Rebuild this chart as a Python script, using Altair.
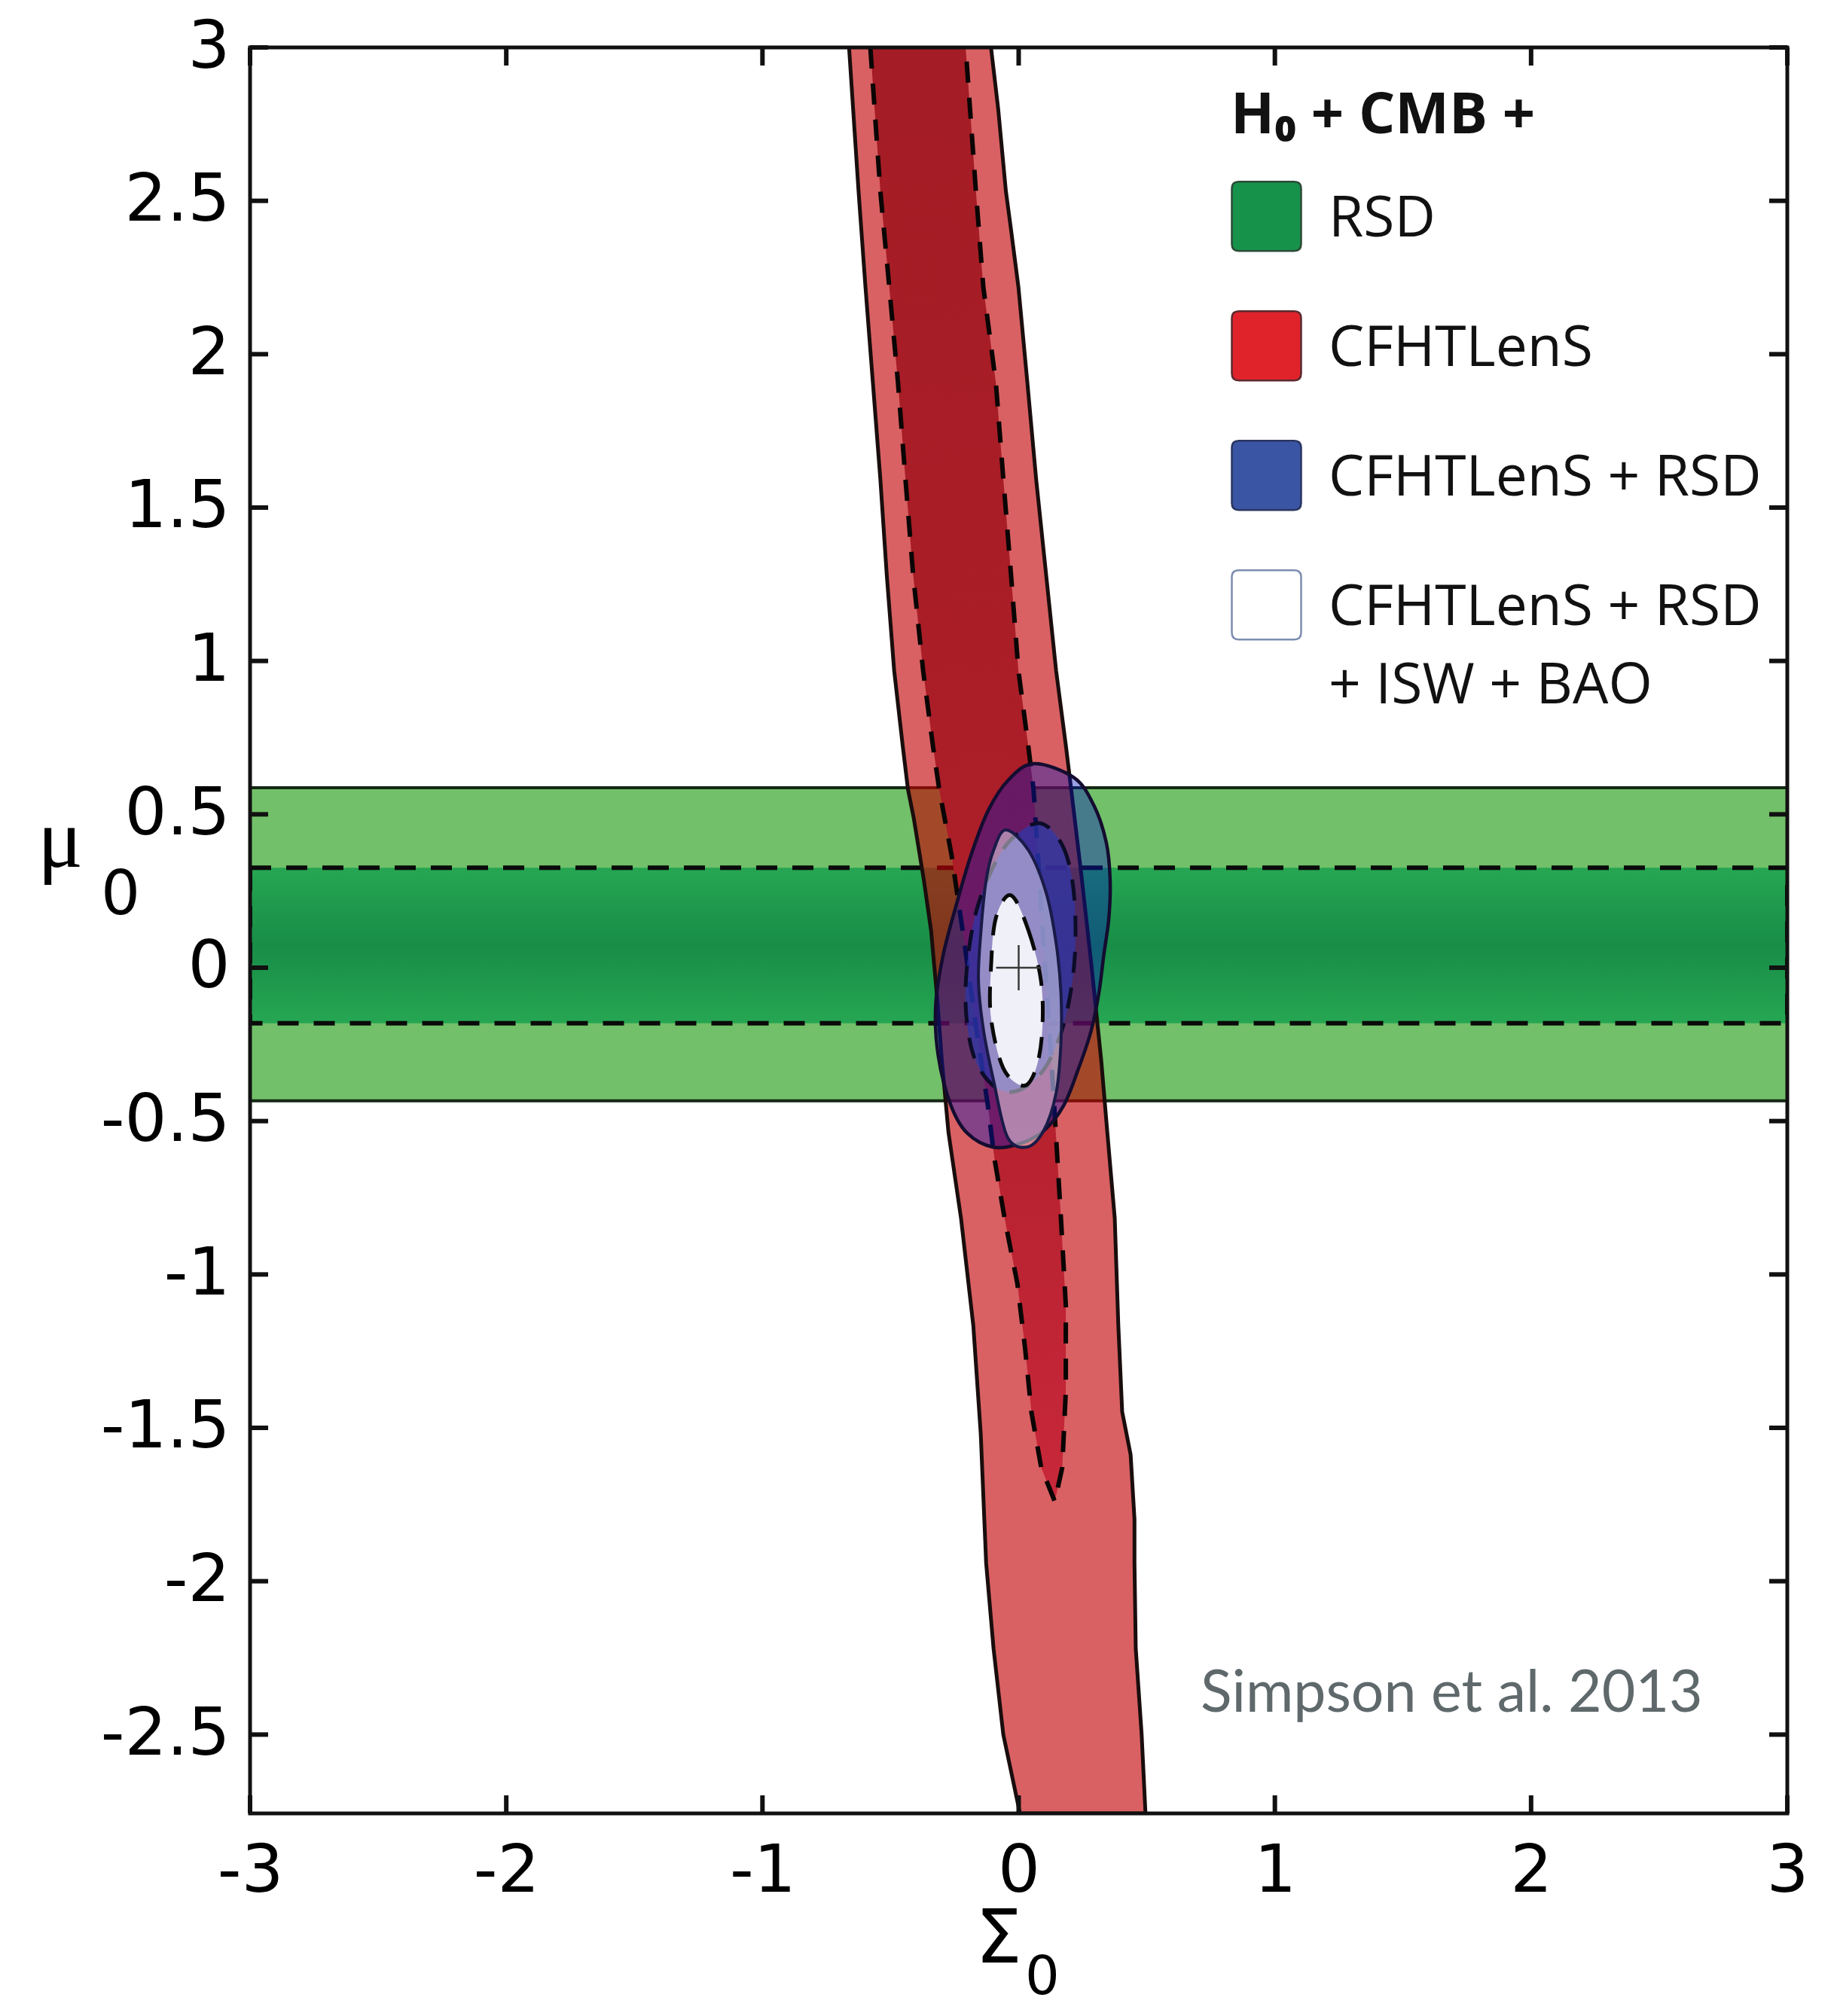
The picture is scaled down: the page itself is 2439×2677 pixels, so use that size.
import altair as alt
import pandas as pd

# ---------------- layout of the plot area ----------------
W, H = 2041, 2345
X_DOMAIN = [-3, 3]
Y_DOMAIN = [-2.757, 3]

# ---------------- axis ticks ----------------
x_ticks = [-3, -2, -1, 0, 1, 2, 3]
y_ticks = [-2.5, -2, -1.5, -1, -0.5, 0, 0.5, 1, 1.5, 2, 2.5, 3]

# ---------------- RSD (horizontal band in mu_0) ----------------
rsd_2sigma = [-0.434, 0.587]
rsd_1sigma = [-0.181, 0.326]

# ---------------- CFHTLenS 2 sigma contour (left edge down, right edge up) ----------------
cfht_2s_x = [-0.662, -0.625, -0.598, -0.569, -0.540, -0.515, -0.486, -0.452, -0.432, -0.410,
             -0.370, -0.342, -0.318, -0.300, -0.274, -0.225, -0.177, -0.148, -0.127, -0.098,
             -0.060, 0.005,
             0.495, 0.480, 0.457, 0.452, 0.452, 0.437, 0.404, 0.389, 0.375, 0.346, 0.322,
             0.285, 0.245, 0.205, 0.185, 0.146, 0.107, 0.068, 0.034, -0.001, -0.030, -0.050,
             -0.080, -0.108]
cfht_2s_y = [3.0, 2.532, 2.219, 1.907, 1.594, 1.282, 0.969, 0.719, 0.581, 0.49,
             0.285, 0.122, -0.1, -0.3, -0.537, -0.817, -1.167, -1.52, -1.94, -2.22,
             -2.50, -2.757,
             -2.757, -2.50, -2.22, -1.94, -1.798, -1.588, -1.448, -1.167, -0.817, -0.537, -0.3,
             0.0, 0.3, 0.581, 0.719, 0.969, 1.282, 1.594, 1.907, 2.219, 2.407, 2.532,
             2.8, 3.0]

# ---------------- CFHTLenS 1 sigma contour ----------------
cfht_1s_x = [-0.579, -0.540, -0.505, -0.471, -0.442, -0.412, -0.373, -0.334, -0.310, -0.262,
             -0.215, -0.165, -0.120, -0.095, -0.055, -0.005, 0.025, 0.050, 0.088, 0.141,
             0.170, 0.184, 0.184, 0.165, 0.145, 0.120, 0.095, 0.075, 0.058, 0.038, -0.001,
             -0.030, -0.060, -0.089, -0.138, -0.167, -0.207]
cfht_1s_y = [3.0, 2.532, 2.219, 1.907, 1.594, 1.282, 0.969, 0.719, 0.581, 0.367,
             0.1, -0.2, -0.45, -0.62, -0.817, -1.03, -1.24, -1.45, -1.63, -1.74,
             -1.63, -1.38, -1.10, -0.817, -0.537, -0.2, 0.1, 0.367, 0.581, 0.719, 0.969,
             1.282, 1.594, 1.907, 2.219, 2.532, 3.0]

# ---------------- CFHTLenS + RSD contours ----------------
comb_2s_x = [0.060, 0.215, 0.293, 0.342, 0.357, 0.352, 0.332, 0.313, 0.283, 0.234, 0.175,
             0.097, 0.000, -0.100, -0.200, -0.264, -0.314, -0.324, -0.295, -0.244, -0.186,
             -0.118, -0.040]
comb_2s_y = [0.665, 0.620, 0.530, 0.408, 0.285, 0.162, 0.040, -0.083, -0.205, -0.328, -0.450,
             -0.532, -0.575, -0.585, -0.540, -0.450, -0.287, -0.123, 0.040, 0.203, 0.367,
             0.514, 0.612]
comb_1s_x = [0.090, 0.170, 0.210, 0.222, 0.210, 0.170, 0.100, 0.000, -0.090, -0.170, -0.205,
             -0.200, -0.160, -0.080, 0.000]
comb_1s_y = [0.470, 0.400, 0.280, 0.120, -0.040, -0.200, -0.330, -0.400, -0.390, -0.300,
             -0.150, 0.020, 0.200, 0.360, 0.440]

# ---------------- CFHTLenS + RSD + ISW + BAO contours ----------------
all_2s_x = [-0.050, 0.038, 0.107, 0.146, 0.165, 0.165, 0.146, 0.097, 0.030, -0.045, -0.098,
            -0.137, -0.157, -0.147, -0.127, -0.098]
all_2s_y = [0.449, 0.383, 0.245, 0.081, -0.083, -0.245, -0.409, -0.532, -0.585, -0.550,
            -0.368, -0.205, -0.042, 0.122, 0.285, 0.383]
all_1s_x = [-0.030, 0.038, 0.087, 0.092, 0.068, 0.019, -0.060, -0.108, -0.108, -0.089]
all_1s_y = [0.236, 0.122, -0.042, -0.205, -0.328, -0.385, -0.328, -0.164, 0.000, 0.162]

best_fit_x = [0.0]
best_fit_y = [0.0]

# ---------------- legend ----------------
series_names = ["RSD", "CFHTLenS", "CFHTLenS + RSD", "CFHTLenS + RSD + ISW + BAO"]
series_colors = ["#17924a", "#e0232b", "#3b55a5", "#ffffff"]
series_borders = ["#2c4a38", "#5a2a30", "#2a3560", "#7d8db0"]

credit_text = ["Simpson et al. 2013"]
credit_x = [0.71]
credit_y = [-2.426]

# ======================================================================
xs = alt.Scale(domain=X_DOMAIN, nice=False, zero=False)
ys = alt.Scale(domain=Y_DOMAIN, nice=False, zero=False)

TICK_FONT = "DejaVu Sans"
label_expr = "datum.value < 0 ? '-' + format(-datum.value, '~g') : format(datum.value, '~g')"
x_axis = alt.Axis(values=x_ticks, labelExpr=label_expr, labelFont=TICK_FONT,
                  labelFontSize=88, labelColor="#000", labelPadding=33, ticks=False,
                  tickSize=0, domain=False, grid=False, title="", labelFlush=False,
                  labelOverlap=False, labelBound=False)
y_axis = alt.Axis(values=y_ticks, labelExpr=label_expr, labelFont=TICK_FONT,
                  labelFontSize=88, labelColor="#000", labelPadding=27, ticks=False,
                  tickSize=0, domain=False, grid=False, title="", labelFlush=False,
                  labelOverlap=False, labelBound=False)


def X(field):
    return alt.X(field, type="quantitative", scale=xs, axis=x_axis)


def Y(field):
    return alt.Y(field, type="quantitative", scale=ys, axis=y_axis)


one = pd.DataFrame({"k": [0]})


def contour(cx, cy, fill, fill_opacity, stroke, width, dash=None, interp="linear"):
    df = pd.DataFrame({"x": cx, "y": cy, "i": list(range(len(cx)))})
    kw = dict(fill=fill, fillOpacity=fill_opacity, stroke=stroke, strokeWidth=width,
              interpolate=interp, clip=True, strokeJoin="round")
    if dash:
        kw["strokeDash"] = dash
    return alt.Chart(df).mark_line(**kw).encode(x=X("x"), y=Y("y"), order=alt.Order("i:Q"))


DASH = [28, 20]

# RSD bands
green2 = alt.Chart(pd.DataFrame({"lo": [rsd_2sigma[0]], "hi": [rsd_2sigma[1]]})).mark_rect(
    fill="#72c069", stroke="#142814", strokeWidth=4, clip=True
).encode(y=Y("lo"), y2="hi:Q", x=alt.value(0), x2=alt.value(W))

green1_fill = alt.LinearGradient(
    gradient="linear", x1=0, x2=0, y1=0, y2=1,
    stops=[alt.GradientStop(color="#26a652", offset=0),
           alt.GradientStop(color="#188d47", offset=0.5),
           alt.GradientStop(color="#26a652", offset=1)])
green1 = alt.Chart(pd.DataFrame({"lo": [rsd_1sigma[0]], "hi": [rsd_1sigma[1]]})).mark_rect(
    fill=green1_fill, stroke="#0a0a0a", strokeWidth=6, strokeDash=DASH, clip=True
).encode(y=Y("lo"), y2="hi:Q", x=alt.value(0), x2=alt.value(W))

red1_fill = alt.LinearGradient(
    gradient="linear", x1=0, x2=0, y1=0, y2=1,
    stops=[alt.GradientStop(color="#a41c25", offset=0),
           alt.GradientStop(color="#ad1e28", offset=0.6),
           alt.GradientStop(color="#c8283a", offset=1)])

red2 = contour(cfht_2s_x, cfht_2s_y, "#c20003", 0.62, "#1a0d0d", 5)
red1 = contour(cfht_1s_x, cfht_1s_y, red1_fill, 1.0, "#0a0505", 6, DASH)
blue2 = contour(comb_2s_x, comb_2s_y, "#0514be", 0.40, "#140c30", 4.5, None, "cardinal-closed")
blue1 = contour(comb_1s_x, comb_1s_y, "#2d37aa", 0.72, "#0c0c28", 5, DASH, "cardinal-closed")
white2 = contour(all_2s_x, all_2s_y, "#ffffff", 0.45, "#1a1a48", 4, None, "cardinal-closed")
white1 = contour(all_1s_x, all_1s_y, "#f4f4fa", 0.96, "#0a0a0a", 5, DASH, "cardinal-closed")

cross = alt.Chart(pd.DataFrame({"x": best_fit_x, "y": best_fit_y})).mark_point(
    shape="M-1,0L1,0M0,-1L0,1", filled=False, size=3600, strokeWidth=2.5,
    color="#3a3a3a", opacity=1
).encode(x=X("x"), y=Y("y"))

# frame and inward ticks
frame = alt.Chart(one).mark_rect(fillOpacity=0, stroke="#111111", strokeWidth=5).encode(
    x=alt.value(0), x2=alt.value(W), y=alt.value(0), y2=alt.value(H))

TICK = 24
yt = pd.DataFrame({"v": y_ticks})
xt = pd.DataFrame({"v": x_ticks})
tick_left = alt.Chart(yt).mark_rule(color="#111111", strokeWidth=6).encode(
    y=Y("v"), x=alt.value(0), x2=alt.value(TICK))
tick_right = alt.Chart(yt).mark_rule(color="#111111", strokeWidth=6).encode(
    y=Y("v"), x=alt.value(W - TICK), x2=alt.value(W))
tick_bottom = alt.Chart(xt).mark_rule(color="#111111", strokeWidth=6).encode(
    x=X("v"), y=alt.value(H - TICK), y2=alt.value(H))
tick_top = alt.Chart(xt).mark_rule(color="#111111", strokeWidth=6).encode(
    x=X("v"), y=alt.value(0), y2=alt.value(TICK))


# axis titles (symbol + subscript)
def label(txt, px, py, font, size):
    return alt.Chart(pd.DataFrame({"t": [txt]})).mark_text(
        font=font, fontSize=size, color="#000", align="center", baseline="alphabetic"
    ).encode(text="t:N", x=alt.value(px), y=alt.value(py))


mu = label("μ", -252, 1088, "Liberation Serif", 112)
mu_sub = label("0", -172, 1151, TICK_FONT, 82)
sig = label("Σ", 994, 2543, TICK_FONT, 98)
sig_sub = label("0", 1052, 2585, TICK_FONT, 72)

credit = alt.Chart(pd.DataFrame({"t": credit_text, "x": credit_x, "y": credit_y})).mark_text(
    font="Lato", fontSize=77, color="#5f696c", align="left", baseline="alphabetic"
).encode(text="t:N", x=X("x"), y=Y("y"))

# legend (real legend, drawn from an invisible point layer)
# symbols are shifted down so that their centre sits on the first text line (labels top-aligned)
sq = "M-0.8,-0.29H0.8Q1,-0.29 1,-0.09V1.51Q1,1.71 0.8,1.71H-0.8Q-1,1.71 -1,1.51V-0.09Q-1,-0.29 -0.8,-0.29Z"
symbol_paths = [sq, sq, sq, sq]

legend_kw = dict(
    title="H₀ + CMB +", orient="none", legendX=1302, legendY=54,
    titleFont="Open Sans", titleFontWeight="bold", titleFontSize=76, titleColor="#111111",
    titleAnchor="start", titleBaseline="top", titlePadding=14, titleLimit=3000,
    labelFont="Open Sans", labelFontSize=75, labelColor="#111111", labelOffset=35,
    labelBaseline="top",
    labelLimit=3000, symbolSize=8464, symbolOpacity=1, symbolStrokeWidth=2.5,
    rowPadding=40, padding=0,
    labelExpr="datum.label == 'CFHTLenS + RSD + ISW + BAO' ? ['CFHTLenS + RSD', '+ ISW + BAO'] : datum.label",
)
legend_layer = alt.Chart(pd.DataFrame({"series": series_names})).mark_point(
    filled=True, opacity=0
).encode(
    color=alt.Color("series:N", scale=alt.Scale(domain=series_names, range=series_colors),
                    legend=alt.Legend(**legend_kw)),
    shape=alt.Shape("series:N", scale=alt.Scale(domain=series_names, range=symbol_paths),
                    legend=alt.Legend(**legend_kw)),
    stroke=alt.Stroke("series:N", scale=alt.Scale(domain=series_names, range=series_borders),
                      legend=alt.Legend(**legend_kw)),
)

chart = alt.layer(
    green2, green1, red2, red1, blue2, blue1, white2, white1, cross,
    frame, tick_left, tick_right, tick_bottom, tick_top,
    mu, mu_sub, sig, sig_sub, credit, legend_layer,
).properties(
    width=W, height=H,
    autosize=alt.AutoSizeParams(type="none"),
    padding={"left": 324, "top": 55, "right": 40, "bottom": 257},
).configure_view(stroke=None).configure(
    style={"guide-label": {"lineHeight": 104}}
)

chart.save("out.html", embed_options={"renderer": "svg", "actions": False})
